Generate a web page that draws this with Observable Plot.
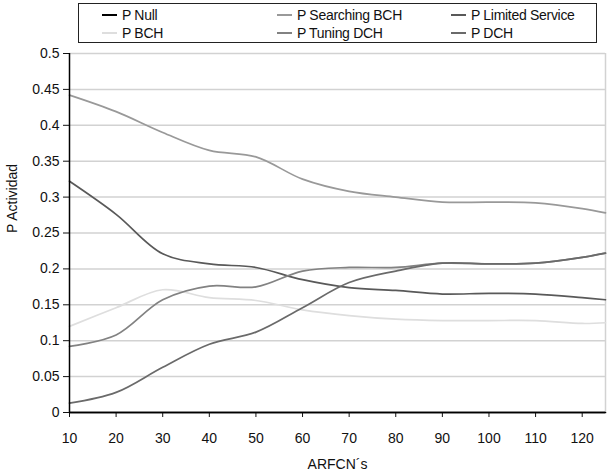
<!DOCTYPE html>
<html>
<head>
<meta charset="utf-8">
<script src="https://cdn.jsdelivr.net/npm/d3@7"></script>
<script src="https://cdn.jsdelivr.net/npm/@observablehq/plot@0.6"></script>
<style>
  html, body { margin: 0; padding: 0; background: #fff; }
  body { width: 607px; height: 476px; overflow: hidden; font-family: "Liberation Sans", Arial, sans-serif; }
  #legend { position: relative; height: 40px; z-index: 2; }
  #legend .box { position: absolute; left: 78px; top: 3px; width: 519px; height: 40px; border: 1px solid #222; box-sizing: border-box; }
  #legend .item { position: absolute; font-size: 14px; line-height: 16px; color: #111; white-space: nowrap; letter-spacing: -0.3px; }
  #legend .sw { display: inline-block; width: 15px; height: 0; border-top: 2px solid; vertical-align: middle; margin-right: 5px; position: relative; top: -1px; }
  #chart svg { overflow: visible; }
</style>
</head>
<body>
<div id="legend"><div class="box"></div></div>
<div id="chart"></div>
<script>
const arfcn = [10, 20, 30, 40, 50, 60, 70, 80, 90, 100, 110, 120, 125];
const seriesNames = ["P Null", "P Searching BCH", "P Limited Service", "P BCH", "P Tuning DCH", "P DCH"];
const pNull         = [0, 0, 0, 0, 0, 0, 0, 0, 0, 0, 0, 0, 0];
const pSearchingBCH = [0.442, 0.419, 0.390, 0.365, 0.356, 0.325, 0.308, 0.300, 0.293, 0.293, 0.292, 0.284, 0.278];
const pLimited      = [0.322, 0.276, 0.221, 0.207, 0.202, 0.185, 0.174, 0.170, 0.165, 0.166, 0.165, 0.160, 0.157];
const pBCH          = [0.120, 0.146, 0.171, 0.160, 0.156, 0.143, 0.135, 0.130, 0.128, 0.128, 0.128, 0.124, 0.125];
const pTuningDCH    = [0.092, 0.108, 0.157, 0.176, 0.175, 0.197, 0.202, 0.202, 0.208, 0.207, 0.208, 0.216, 0.222];
const pDCH          = [0.013, 0.028, 0.063, 0.095, 0.112, 0.146, 0.181, 0.197, 0.208, 0.207, 0.208, 0.216, 0.222];
const xTicks = [10, 20, 30, 40, 50, 60, 70, 80, 90, 100, 110, 120];
const yTicks = [0, 0.05, 0.1, 0.15, 0.2, 0.25, 0.3, 0.35, 0.4, 0.45, 0.5];
const colors = ["#000000", "#999999", "#595959", "#dedede", "#828282", "#6a6a6a"];

const valueArrays = [pNull, pSearchingBCH, pLimited, pBCH, pTuningDCH, pDCH];
const data = [];
seriesNames.forEach((name, i) => {
  arfcn.forEach((x, j) => data.push({series: name, x, y: valueArrays[i][j]}));
});

// legend
const legend = document.getElementById("legend");
const legendPos = [[102, 7], [277, 7], [451, 7], [102, 25], [277, 25], [451, 25]];
seriesNames.forEach((name, i) => {
  const d = document.createElement("div");
  d.className = "item";
  d.style.left = legendPos[i][0] + "px";
  d.style.top = legendPos[i][1] + "px";
  const sw = document.createElement("span");
  sw.className = "sw";
  sw.style.borderTopColor = colors[i];
  d.appendChild(sw);
  d.appendChild(document.createTextNode(name));
  legend.appendChild(d);
});

const fmt = d => String(+d.toFixed(2));

const plot = Plot.plot({
  width: 607,
  height: 436,
  marginLeft: 69,
  marginRight: 2,
  marginTop: 13,
  marginBottom: 64,
  style: {fontFamily: "Liberation Sans, Arial, sans-serif", fontSize: "14px", color: "#111", background: "transparent"},
  x: {domain: [10, 125]},
  y: {domain: [0, 0.5]},
  color: {domain: seriesNames, range: colors},
  marks: [
    Plot.ruleY(yTicks, {stroke: "#d2d2d2", strokeWidth: 1.5}),
    Plot.ruleX([125], {stroke: "#d2d2d2", strokeWidth: 1.5}),
    ...seriesNames.map((name, i) => Plot.line(data.filter(d => d.series === name), {
      x: "x", y: "y", stroke: colors[i], strokeWidth: 1.7, curve: "catmull-rom"
    })),
    Plot.axisX({ticks: xTicks, tickSize: 5, tickPadding: 16, label: null, tickFormat: d => String(d)}),
    Plot.axisY({ticks: yTicks, tickSize: 6, tickPadding: 4, label: null, tickFormat: fmt}),
    Plot.ruleY([0], {stroke: "#000", strokeWidth: 1.5}),
    Plot.ruleX([10], {stroke: "#000", strokeWidth: 1.5}),
    Plot.text(["ARFCN´s"], {frameAnchor: "bottom", dy: 56, fontSize: 14, fill: "#111"}),
    Plot.text(["P Actividad"], {frameAnchor: "left", dx: -57, rotate: -90, fontSize: 14, fill: "#111"})
  ]
});
document.getElementById("chart").appendChild(plot);
</script>
</body>
</html>
